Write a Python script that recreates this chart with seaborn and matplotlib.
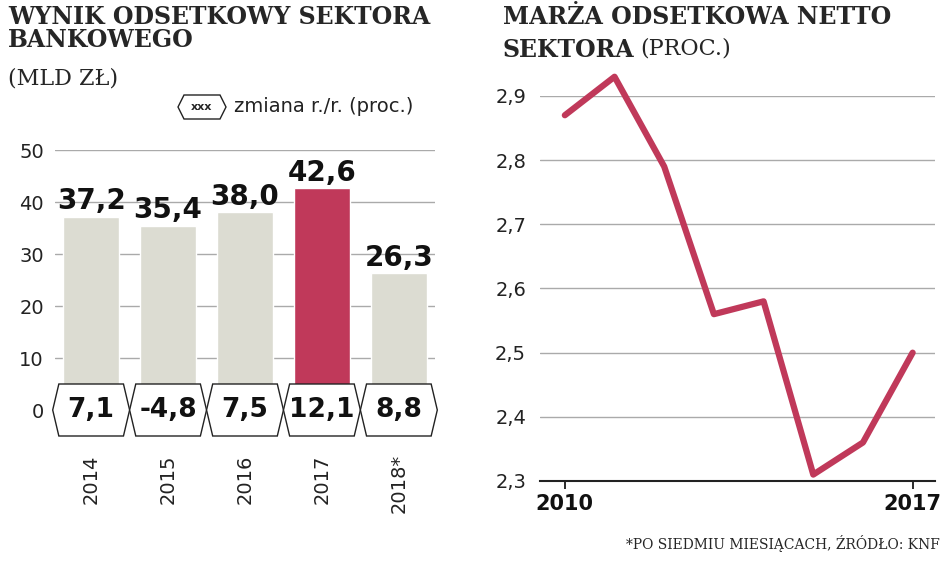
import matplotlib
matplotlib.use("Agg")
import matplotlib.pyplot as plt
import seaborn as sns
import pandas as pd
from matplotlib.patches import Polygon

sns.set_theme(style="white")
plt.rcParams['font.family'] = ['DejaVu Sans']

years = ["2014", "2015", "2016", "2017", "2018*"]
wynik = [37.2, 35.4, 38.0, 42.6, 26.3]
zmiana = ["7,1", "-4,8", "7,5", "12,1", "8,8"]
lbl_wynik = ["37,2", "35,4", "38,0", "42,6", "26,3"]
marza_years = [2010, 2011, 2012, 2013, 2014, 2015, 2016, 2017]
marza = [2.87, 2.93, 2.79, 2.56, 2.58, 2.31, 2.36, 2.50]

GREY = "#dcdcd2"
RED = "#c0395a"
W, H = 948, 561
fig = plt.figure(figsize=(9.48, 5.61), dpi=100)

def ax_px(l, t, r, b):
    return fig.add_axes([l / W, 1 - b / H, (r - l) / W, (b - t) / H])

# Left chart
ax = ax_px(55, 150, 435, 410)
df = pd.DataFrame({"y": years, "v": wynik})
sns.barplot(data=df, x="y", y="v", hue="y", palette=[GREY, GREY, GREY, RED, GREY],
            legend=False, width=0.73, saturation=1, ax=ax, zorder=2)
ax.set_ylim(0, 50)
ax.set_xlim(-0.47, 4.47)
ax.set_yticks(range(0, 51, 10))
ax.grid(axis="y", color="#aaaaaa", lw=1, zorder=0)
ax.set_axisbelow(True)
for s in ax.spines.values():
    s.set_visible(False)
ax.set_xlabel(""); ax.set_ylabel("")
ax.set_xticks([])
ax.tick_params(axis="y", labelsize=14, colors="#222222", pad=2)
for i, (v, l) in enumerate(zip(wynik, lbl_wynik)):
    ax.text(i, v + 0.3, l, ha="center", va="bottom", fontsize=20, fontweight="bold", color="#111111")
    hx = [i - 0.5, i - 0.42, i + 0.42, i + 0.5, i + 0.42, i - 0.42]
    hy = [0, 5, 5, 0, -5, -5]
    ax.add_patch(Polygon(list(zip(hx, hy)), closed=True, fc="white", ec="#222222", lw=1, clip_on=False, zorder=5))
    ax.text(i, 0, zmiana[i], ha="center", va="center", fontsize=19, fontweight="bold", color="#111111", zorder=6)
    ax.text(i, -8.5, years[i], ha="center", va="top", rotation=90, fontsize=14, color="#222222")

# legend hexagon
lx, ly = 178, 107
fig.patches.append(Polygon([((lx) / W, 1 - ly / H), ((lx + 6) / W, 1 - (ly - 12) / H),
                            ((lx + 42) / W, 1 - (ly - 12) / H), ((lx + 48) / W, 1 - ly / H),
                            ((lx + 42) / W, 1 - (ly + 12) / H), ((lx + 6) / W, 1 - (ly + 12) / H)],
                           closed=True, fc="white", ec="#222222", lw=1, transform=fig.transFigure))
fig.text((lx + 24) / W, 1 - ly / H, "xxx", ha="center", va="center", fontsize=8, fontweight="bold")
fig.text(234 / W, 1 - ly / H, "zmiana r./r. (proc.)", ha="left", va="center", fontsize=14, color="#222222")

fig.text(8 / W, 1 - 5 / H, "WYNIK ODSETKOWY SEKTORA\nBANKOWEGO", ha="left", va="top",
         fontsize=17, fontweight="bold", family="DejaVu Serif", linespacing=0.95)
fig.text(8 / W, 1 - 68 / H, "(MLD ZŁ)", ha="left", va="top", fontsize=16, family="DejaVu Serif")

# Right chart
ax2 = ax_px(540, 96, 935, 481)
sns.lineplot(x=marza_years, y=marza, color=RED, lw=4.5, ax=ax2)
ax2.set_ylim(2.3, 2.9)
ax2.set_xlim(2009.5, 2017.45)
ax2.set_yticks([2.3, 2.4, 2.5, 2.6, 2.7, 2.8, 2.9])
ax2.set_yticklabels(["2,3", "2,4", "2,5", "2,6", "2,7", "2,8", "2,9"])
ax2.set_xticks([2010, 2017])
ax2.grid(axis="y", color="#aaaaaa", lw=1)
for s in ["top", "right", "left"]:
    ax2.spines[s].set_visible(False)
ax2.spines["bottom"].set_color("#222222")
ax2.spines["bottom"].set_linewidth(1.5)
ax2.tick_params(axis="y", labelsize=14, colors="#222222", pad=4)
ax2.tick_params(axis="x", labelsize=15, colors="#111111", bottom=True, length=6)
for t in ax2.get_xticklabels():
    t.set_fontweight("bold")
ax2.lines[0].set_clip_on(False)

fig.text(503 / W, 1 - 5 / H, "MARŻA ODSETKOWA NETTO", ha="left", va="top",
         fontsize=17, fontweight="bold", family="DejaVu Serif")
fig.text(503 / W, 1 - 38 / H, "SEKTORA", ha="left", va="top", fontsize=17, fontweight="bold", family="DejaVu Serif")
fig.text(640 / W, 1 - 38 / H, "(PROC.)", ha="left", va="top", fontsize=16, family="DejaVu Serif")
fig.text(940 / W, 1 - 552 / H, "*PO SIEDMIU MIESIĄCACH, ŹRÓDŁO: KNF", ha="right", va="bottom",
         fontsize=10, family="DejaVu Serif")

fig.savefig("out.png", dpi=100)
